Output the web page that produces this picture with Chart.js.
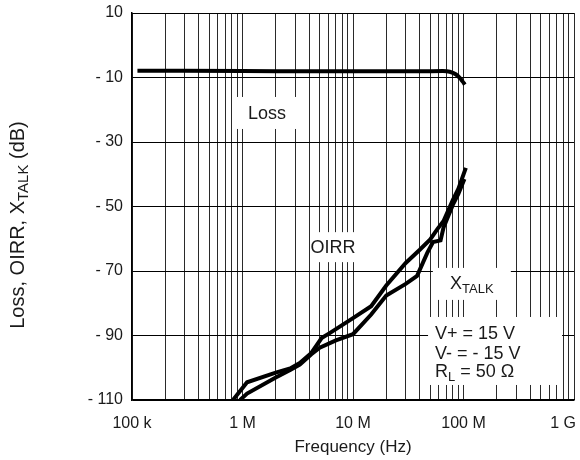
<!DOCTYPE html>
<html>
<head>
<meta charset="utf-8">
<script src="https://cdn.jsdelivr.net/npm/chart.js@4.4.1/dist/chart.umd.min.js"></script>
<style>
  html, body { margin: 0; padding: 0; background: #fff; }
  #wrap { width: 580px; height: 460px; }
</style>
</head>
<body>
<div id="wrap"><canvas id="c"></canvas></div>
<script>
// axis ticks
const freqTicks = [1e5, 1e6, 1e7, 1e8, 1e9]
const freqTickLabels = ['100 k', '1 M', '10 M', '100 M', '1 G']
const dbTicks = [-110, -90, -70, -50, -30, -10, 10]

// Loss (dB) vs frequency (Hz)
const lossFreq = [1.12e5, 1e6, 1e7, 4e7, 6.5e7, 7.5e7, 8.5e7, 9.3e7, 9.8e7, 1.03e8]
const lossDb   = [-7.9, -8.0, -8.1, -8.1, -8.0, -8.2, -9.0, -10.2, -11.2, -12.2]

// OIRR
const oirrFreq = [8.2e5, 1.1e6, 2.0e6, 2.7e6, 3.3e6, 4.2e6, 5.2e6, 6.2e6, 1e7, 1.46e7, 2e7, 3e7, 4e7, 5e7, 5.8e7, 6.6e7, 8e7, 9e7, 1.05e8]
const oirrDb   = [-110, -104.5, -101.5, -100.2, -98.5, -95.4, -90.8, -89.2, -84.6, -80.9, -74.5, -67.5, -63.5, -60.2, -57, -54.5, -48, -44.5, -38]

// XTALK
const xtalkFreq = [9.5e5, 1.1e6, 2.0e6, 2.7e6, 3.3e6, 4.2e6, 5e6, 7e6, 1e7, 1.46e7, 2e7, 3e7, 3.8e7, 4.7e7, 5.3e7, 6.2e7, 6.6e7, 8e7, 9e7, 1.02e8]
const xtalkDb   = [-110, -108, -103, -100.7, -99, -95.8, -93.8, -91.5, -89.6, -83.5, -77.6, -74, -71.5, -64.4, -61, -60.5, -56.5, -49.5, -46, -41.5]

const FONT = '"Liberation Sans", Arial, sans-serif'
const TXT = '#1a1a1a'

const toPts = (fs, ds) => fs.map((f, i) => ({ x: f, y: ds[i] }))

// text boxes (centre in data units, size in px)
const boxes = [
  { f: 1.67e6, db: -21, w: 64, h: 32, kind: 'loss' },
  { f: 6.6e6, db: -62.6, w: 46, h: 30, kind: 'oirr' },
  { f: 1.19e8, db: -74, w: 78, h: 32, kind: 'xtalk' },
  { f: 1.93e8, db: -94.8, w: 134, h: 68, kind: 'cond' }
]

function drawRich(ctx, parts, x, y, align, size, subSize) {
  let total = 0
  parts.forEach(p => {
    ctx.font = (p.sub ? subSize : size) + 'px ' + FONT
    p.w = ctx.measureText(p.t).width
    total += p.w
  })
  let cx = align === 'center' ? x - total / 2 : x
  ctx.textAlign = 'left'
  ctx.textBaseline = 'alphabetic'
  parts.forEach(p => {
    ctx.font = (p.sub ? subSize : size) + 'px ' + FONT
    ctx.fillText(p.t, cx, y + (p.sub ? 4 : 0))
    cx += p.w
  })
}

const overlay = {
  id: 'overlay',
  beforeDatasetsDraw(chart) {
    const { ctx, scales: { x, y } } = chart
    ctx.save()
    boxes.forEach(b => {
      const cx = x.getPixelForValue(b.f), cy = y.getPixelForValue(b.db)
      ctx.fillStyle = '#fff'
      ctx.fillRect(cx - b.w / 2, cy - b.h / 2, b.w, b.h)
      ctx.fillStyle = TXT
      if (b.kind === 'loss') drawRich(ctx, [{ t: 'Loss' }], cx, cy + 6, 'center', 18, 13)
      if (b.kind === 'oirr') drawRich(ctx, [{ t: 'OIRR' }], cx, cy + 6, 'center', 18, 13)
      if (b.kind === 'xtalk') drawRich(ctx, [{ t: 'X' }, { t: 'TALK', sub: true }], cx, cy + 5, 'center', 18, 13)
      if (b.kind === 'cond') {
        const lx = cx - 60
        drawRich(ctx, [{ t: 'V+ = 15 V' }], lx, cy - 12, 'left', 18, 13)
        drawRich(ctx, [{ t: 'V- = - 15 V' }], lx, cy + 8, 'left', 18, 13)
        drawRich(ctx, [{ t: 'R' }, { t: 'L', sub: true }, { t: ' = 50 Ω' }], lx, cy + 26, 'left', 18, 13)
      }
    })
    ctx.restore()
  },
  afterDraw(chart) {
    const { ctx, scales: { x } } = chart
    ctx.save()
    ctx.fillStyle = TXT
    // x tick labels, last one kept inside the canvas
    ctx.font = '16px ' + FONT
    ctx.textBaseline = 'middle'
    ctx.textAlign = 'center'
    freqTicks.forEach((f, i) => {
      const w = ctx.measureText(freqTickLabels[i]).width
      let px = x.getPixelForValue(f)
      if (px + w / 2 > chart.width - 4) px = chart.width - 4 - w / 2
      ctx.fillText(freqTickLabels[i], px, 424)
    })
    // rotated y title with subscript
    ctx.translate(17, 225)
    ctx.rotate(-Math.PI / 2)
    drawRich(ctx, [{ t: 'Loss, OIRR, X' }, { t: 'TALK', sub: true }, { t: ' (dB)' }], 0, 7, 'center', 20, 15)
    ctx.restore()
  }
}

const minorTicks = []
for (let e = 5; e < 9; e++) for (let k = 1; k < 10; k++) minorTicks.push(k * Math.pow(10, e))
minorTicks.push(1e9)

const line = (label, fs, ds, mode) => ({
  label,
  data: toPts(fs, ds),
  borderColor: '#000',
  borderWidth: 4,
  pointRadius: 0,
  fill: false,
  cubicInterpolationMode: mode || 'default',
  tension: 0
})

new Chart(document.getElementById('c'), {
  type: 'line',
  data: {
    datasets: [
      line('Loss', lossFreq, lossDb, 'monotone'),
      line('OIRR', oirrFreq, oirrDb),
      line('XTALK', xtalkFreq, xtalkDb)
    ]
  },
  options: {
    responsive: true,
    maintainAspectRatio: false,
    animation: false,
    devicePixelRatio: 1,
    layout: { padding: { top: 13, right: 6, left: 0, bottom: 0 } },
    plugins: { legend: { display: false }, tooltip: { enabled: false } },
    scales: {
      x: {
        type: 'logarithmic',
        min: 1e5,
        max: 1e9,
        afterBuildTicks: s => { s.ticks = minorTicks.map(v => ({ value: v })) },
        afterFit: s => { s.height = 60; s.paddingLeft = 0; s.paddingRight = 0 },
        ticks: { display: false, autoSkip: false, maxRotation: 0 },
        grid: { color: '#2a2a2a', lineWidth: 1, drawTicks: false },
        border: { color: '#000', width: 1.5 },
        title: {
          display: true,
          text: 'Frequency (Hz)',
          color: TXT,
          font: { family: FONT, size: 17 },
          padding: { top: 0, bottom: 2 }
        }
      },
      y: {
        min: -110,
        max: 10,
        afterBuildTicks: s => { s.ticks = dbTicks.map(v => ({ value: v })) },
        afterFit: s => { s.width = 132; s.paddingTop = 0; s.paddingBottom = 0 },
        ticks: {
          color: TXT,
          font: { family: FONT, size: 16 },
          padding: 9,
          callback: v => v < 0 ? '- ' + (-v) : String(v)
        },
        grid: { color: '#000', lineWidth: 1, drawTicks: false },
        border: { color: '#000', width: 1.5 }
      }
    }
  },
  plugins: [overlay]
})
</script>
</body>
</html>
